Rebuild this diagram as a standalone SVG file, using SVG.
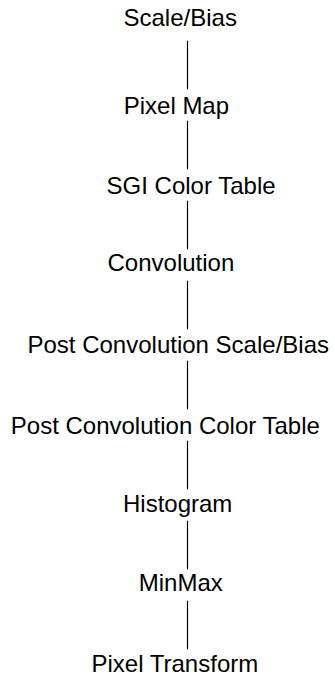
<svg xmlns="http://www.w3.org/2000/svg" width="335" height="677" viewBox="0 0 335 677">
<style>
.lbl{font-family:"Liberation Sans",Arial,Helvetica,sans-serif;font-size:24px;fill:#000}
.edge{stroke:#000;stroke-width:1.2;fill:none}
</style>
<rect width="335" height="677" fill="#fff"/>
<g id="connectors">
<line class="edge" x1="187.5" y1="40.7" x2="187.5" y2="89.3"/>
<line class="edge" x1="187.5" y1="120.7" x2="187.5" y2="169.3"/>
<line class="edge" x1="187.5" y1="200.7" x2="187.5" y2="249.3"/>
<line class="edge" x1="187.5" y1="280.7" x2="187.5" y2="329.3"/>
<line class="edge" x1="187.5" y1="360.7" x2="187.5" y2="409.3"/>
<line class="edge" x1="187.5" y1="440.7" x2="187.5" y2="489.3"/>
<line class="edge" x1="187.5" y1="520.7" x2="187.5" y2="569.3"/>
<line class="edge" x1="187.5" y1="600.7" x2="187.5" y2="649.3"/>
</g>
<g id="n1"><text class="lbl" x="123.5" y="26">Scale/Bias</text></g>
<g id="n2"><text class="lbl" x="123.7" y="114">Pixel Map</text></g>
<g id="n3"><text class="lbl" x="106.6" y="193.5">SGI Color Table</text></g>
<g id="n4"><text class="lbl" x="107.5" y="271">Convolution</text></g>
<g id="n5"><text class="lbl" x="27.5" y="352.7">Post Convolution Scale/Bias</text></g>
<g id="n6"><text class="lbl" x="10.8" y="434">Post Convolution Color Table</text></g>
<g id="n7"><text class="lbl" x="123" y="512">Histogram</text></g>
<g id="n8"><text class="lbl" x="138.8" y="591">MinMax</text></g>
<g id="n9"><text class="lbl" x="91.5" y="671.5">Pixel Transform</text></g>
</svg>
